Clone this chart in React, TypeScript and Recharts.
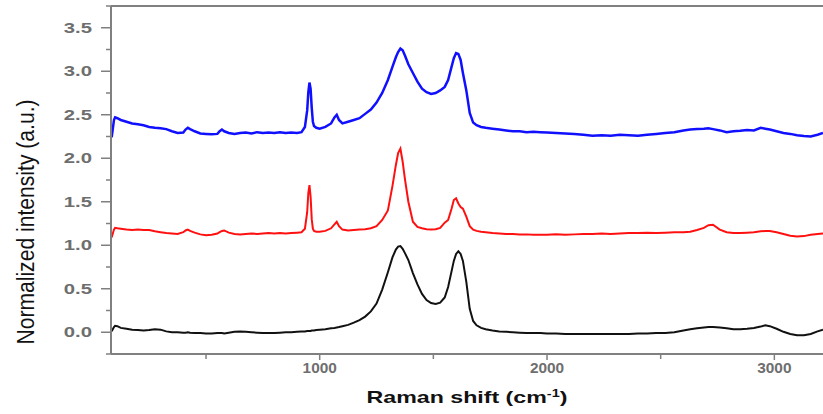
import { LineChart, Line, XAxis, YAxis, ReferenceLine } from 'recharts';

// Raman shift grid (cm-1)
const shifts = [
  85, 95, 100, 110, 125, 150, 175, 200, 225, 250,
  275, 300, 325, 350, 375, 400, 410, 420, 430, 450,
  475, 500, 525, 550, 560, 570, 580, 600, 625, 650,
  675, 700, 725, 750, 775, 800, 825, 850, 875, 900,
  920, 935, 945, 950, 955, 960, 965, 970, 975, 985,
  1000, 1025, 1050, 1065, 1075, 1085, 1100, 1125, 1150, 1175,
  1200, 1225, 1250, 1275, 1300, 1320, 1335, 1345, 1355, 1365,
  1375, 1390, 1410, 1430, 1450, 1470, 1490, 1510, 1530, 1550,
  1565, 1580, 1590, 1600, 1610, 1620, 1630, 1645, 1660, 1675,
  1690, 1710, 1730, 1760, 1790, 1820, 1850, 1880, 1910, 1940,
  1970, 2000, 2040, 2080, 2120, 2160, 2200, 2240, 2280, 2320,
  2360, 2400, 2440, 2480, 2520, 2560, 2600, 2630, 2660, 2690,
  2710, 2730, 2760, 2790, 2820, 2850, 2880, 2910, 2940, 2960,
  2980, 3010, 3040, 3070, 3100, 3130, 3160, 3190, 3214,
];

// top spectrum (blue)
const blueIntensity = [
  2.24, 2.44, 2.47, 2.46, 2.44, 2.42, 2.40, 2.39, 2.38, 2.36,
  2.35, 2.345, 2.335, 2.31, 2.29, 2.295, 2.33, 2.35, 2.335, 2.31,
  2.285, 2.28, 2.275, 2.28, 2.31, 2.33, 2.31, 2.29, 2.28, 2.29,
  2.295, 2.285, 2.30, 2.29, 2.295, 2.29, 2.30, 2.29, 2.295, 2.29,
  2.30, 2.36, 2.55, 2.76, 2.87, 2.80, 2.58, 2.42, 2.37, 2.35,
  2.34, 2.36, 2.40, 2.47, 2.50, 2.44, 2.40, 2.42, 2.44, 2.46,
  2.51, 2.56, 2.64, 2.75, 2.90, 3.05, 3.16, 3.22, 3.26, 3.24,
  3.18, 3.08, 2.98, 2.88, 2.80, 2.76, 2.74, 2.75, 2.78, 2.82,
  2.90, 3.05, 3.15, 3.21, 3.20, 3.13, 2.98, 2.78, 2.52, 2.41,
  2.38, 2.36, 2.35, 2.34, 2.33, 2.32, 2.31, 2.31, 2.30, 2.305,
  2.30, 2.295, 2.29, 2.285, 2.28, 2.27, 2.26, 2.265, 2.26, 2.27,
  2.265, 2.26, 2.27, 2.28, 2.29, 2.30, 2.32, 2.33, 2.335, 2.34,
  2.345, 2.335, 2.32, 2.30, 2.31, 2.315, 2.325, 2.32, 2.35, 2.34,
  2.33, 2.31, 2.29, 2.28, 2.265, 2.255, 2.25, 2.27, 2.29,
];

// middle spectrum (red)
const redIntensity = [
  1.09, 1.18, 1.20, 1.195, 1.19, 1.18, 1.175, 1.18, 1.175, 1.175,
  1.16, 1.15, 1.14, 1.135, 1.13, 1.15, 1.17, 1.18, 1.165, 1.145,
  1.125, 1.115, 1.12, 1.135, 1.15, 1.165, 1.17, 1.145, 1.13, 1.125,
  1.13, 1.135, 1.13, 1.135, 1.14, 1.135, 1.14, 1.135, 1.14, 1.145,
  1.15, 1.19, 1.38, 1.60, 1.69, 1.56, 1.30, 1.19, 1.165, 1.155,
  1.155, 1.165, 1.195, 1.24, 1.27, 1.22, 1.18, 1.17, 1.175, 1.18,
  1.185, 1.195, 1.22, 1.29, 1.40, 1.68, 1.92, 2.06, 2.11, 1.96,
  1.76, 1.50, 1.27, 1.21, 1.195, 1.185, 1.18, 1.185, 1.20, 1.26,
  1.29, 1.42, 1.52, 1.54, 1.48, 1.44, 1.42, 1.33, 1.22, 1.18,
  1.165, 1.155, 1.15, 1.14, 1.135, 1.13, 1.13, 1.125, 1.125, 1.12,
  1.12, 1.12, 1.125, 1.12, 1.125, 1.13, 1.13, 1.135, 1.13, 1.135,
  1.14, 1.14, 1.145, 1.14, 1.145, 1.15, 1.15, 1.155, 1.175, 1.20,
  1.23, 1.235, 1.18, 1.15, 1.14, 1.14, 1.145, 1.15, 1.16, 1.165,
  1.165, 1.15, 1.13, 1.11, 1.10, 1.105, 1.12, 1.13, 1.135,
];

// bottom spectrum (black)
const blackIntensity = [
  0.01, 0.06, 0.075, 0.07, 0.05, 0.04, 0.03, 0.025, 0.02, 0.025,
  0.035, 0.03, 0.01, 0.0, 0.0, -0.005, -0.005, 0.0, -0.005, -0.01,
  -0.01, -0.015, -0.015, -0.01, -0.01, -0.01, -0.015, -0.005, 0.005, 0.01,
  0.005, 0.0, -0.005, -0.01, -0.01, -0.01, -0.005, 0.0, 0.0, 0.005,
  0.01, 0.01, 0.015, 0.015, 0.015, 0.015, 0.02, 0.02, 0.02, 0.025,
  0.03, 0.035, 0.045, 0.05, 0.055, 0.06, 0.07, 0.085, 0.11, 0.14,
  0.18, 0.24, 0.33, 0.49, 0.69, 0.86, 0.95, 0.985, 0.99, 0.96,
  0.91, 0.83, 0.68, 0.55, 0.44, 0.37, 0.335, 0.325, 0.34, 0.40,
  0.52, 0.70, 0.82, 0.90, 0.93, 0.90, 0.82, 0.58, 0.27, 0.13,
  0.08, 0.05, 0.035, 0.02, 0.01, 0.005, 0.0, -0.005, -0.01, -0.01,
  -0.01, -0.015, -0.015, -0.02, -0.02, -0.02, -0.02, -0.02, -0.02, -0.02,
  -0.02, -0.015, -0.015, -0.01, -0.01, 0.0, 0.02, 0.035, 0.045, 0.055,
  0.06, 0.06, 0.055, 0.045, 0.035, 0.035, 0.04, 0.05, 0.065, 0.08,
  0.07, 0.04, 0.005, -0.02, -0.035, -0.035, -0.02, 0.01, 0.03,
];

const xTicks = [500, 1000, 1500, 2000, 2500, 3000];
const yTicks = [-0.25, 0, 0.25, 0.5, 0.75, 1, 1.25, 1.5, 1.75, 2, 2.25, 2.5, 2.75, 3, 3.25, 3.5, 3.75];

const AXIS = '#808080';
const TICK_TEXT = '#6e6e6e';
const FONT = 'Arial, "Liberation Sans", sans-serif';

const data = shifts.map((s, i) => ({
  shift: s,
  blue: blueIntensity[i],
  red: redIntensity[i],
  black: blackIntensity[i],
}));

function YTick(props: any) {
  const { x, y, payload } = props;
  const v = payload.value as number;
  const major = Math.abs(v * 2 - Math.round(v * 2)) < 1e-6;
  return (
    <g>
      <line x1={x} x2={x - (major ? 10 : 5)} y1={y} y2={y} stroke={AXIS} strokeWidth={1.5} />
      {major && (
        <g transform={`translate(${x - 19}, ${y + 5}) scale(1.45, 1)`}>
          <text x={0} y={0} textAnchor="end" fontFamily={FONT} fontWeight="bold" fontSize={14} fill={TICK_TEXT}>
            {v.toFixed(1)}
          </text>
        </g>
      )}
    </g>
  );
}

function XTick(props: any) {
  const { x, y, payload } = props;
  const v = payload.value as number;
  const major = v % 1000 === 0;
  return (
    <g>
      <line x1={x} x2={x} y1={y} y2={y + (major ? 6 : 5)} stroke={AXIS} strokeWidth={1.5} />
      {major && (
        <g transform={`translate(${x}, ${y + 19}) scale(1.1, 1)`}>
          <text x={0} y={0} textAnchor="middle" fontFamily={FONT} fontWeight="bold" fontSize={14} fill={TICK_TEXT}>
            {v}
          </text>
        </g>
      )}
    </g>
  );
}

function YTitle(props: any) {
  const vb = props.viewBox || { x: 0, y: 6 };
  return (
    <g transform={`translate(${vb.x + 26}, ${vb.y + 216}) rotate(-90) scale(0.88, 1)`}>
      <text x={0} y={0} textAnchor="middle" dominantBaseline="central" fontFamily={FONT} fontSize={24} fill="#111">
        Normalized intensity (a.u.)
      </text>
    </g>
  );
}

function XTitle(props: any) {
  const vb = props.viewBox || { x: 111, y: 354, width: 712 };
  return (
    <g transform={`translate(${vb.x + vb.width / 2}, ${vb.y + 49}) scale(1.45, 1)`}>
      <text x={0} y={0} textAnchor="middle" fontFamily={FONT} fontWeight="bold" fontSize={16} fill="#111">
        Raman shift (cm
        <tspan dy={-6} fontSize={10}>-1</tspan>
        <tspan dy={6}>)</tspan>
      </text>
    </g>
  );
}

export default function App() {
  return (
    <div style={{ position: 'absolute', left: 0, top: 0, width: 823, height: 414, overflow: 'hidden', background: '#fff' }}>
      <LineChart width={823} height={414} data={data} margin={{ top: 6, right: 0, bottom: 0, left: 0 }}>
        <XAxis
          dataKey="shift"
          type="number"
          domain={[82, 3214]}
          allowDataOverflow
          ticks={xTicks}
          interval={0}
          height={60}
          tickSize={0}
          tickMargin={0}
          tickLine={false}
          tick={<XTick />}
          axisLine={{ stroke: AXIS, strokeWidth: 2 }}
          label={{ content: <XTitle /> } as any}
        />
        <YAxis
          type="number"
          domain={[-0.25, 3.75]}
          allowDataOverflow
          ticks={yTicks}
          interval={0}
          width={111}
          tickSize={0}
          tickMargin={0}
          tickLine={false}
          tick={<YTick />}
          axisLine={{ stroke: AXIS, strokeWidth: 2 }}
          label={{ content: <YTitle /> } as any}
        />
        <ReferenceLine y={3.75} stroke={AXIS} strokeWidth={2} />
        <Line type="linear" dataKey="black" stroke="#111111" strokeWidth={2} dot={false} isAnimationActive={false} />
        <Line type="linear" dataKey="red" stroke="#ff1010" strokeWidth={2} dot={false} isAnimationActive={false} />
        <Line type="linear" dataKey="blue" stroke="#1010ff" strokeWidth={2.5} dot={false} isAnimationActive={false} />
      </LineChart>
    </div>
  );
}
